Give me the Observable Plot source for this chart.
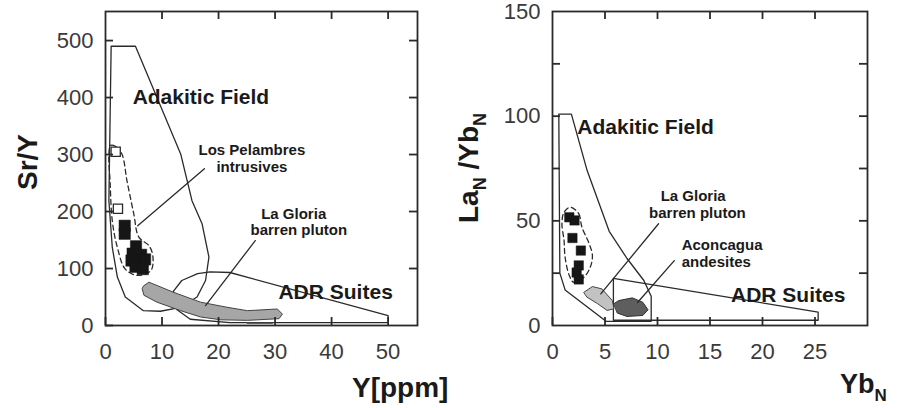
<!DOCTYPE html>
<html><head><meta charset="utf-8">
<script src="https://cdn.jsdelivr.net/npm/d3@7"></script>
<script src="https://cdn.jsdelivr.net/npm/@observablehq/plot@0.6"></script>
<style>
body{margin:0;background:#fff;font-family:"Liberation Sans",Arial,sans-serif;}
#wrap{position:relative;width:901px;height:408px;overflow:hidden;background:#fff}
.panel{position:absolute;top:0}
#titles{position:absolute;left:0;top:0;pointer-events:none}
</style></head><body><div id="wrap"></div>
<script>
// ---------- LEFT PANEL DATA (Sr/Y vs Y ppm) ----------
const leftXTicks = [0, 10, 20, 30, 40, 50];
const leftYTicks = [0, 100, 200, 300, 400, 500];
const leftAdakitic = [[1.0,490],[5.3,490],[13.3,301],[15.3,219],[17.1,178],[18.3,120],[17.7,79],[16.2,50],[13.3,32],[9.7,25],[6.7,26],[3.5,50],[2.1,85],[1.2,137],[0.6,219]];
const leftADR = [[12,60],[13.5,79],[16.3,91],[18.5,94],[22,93],[50,17.5],[50,5],[22,5],[15,11],[12.6,28]];
const leftGloria = [[6.8,70],[7.7,76],[12.1,58],[16.8,41],[21.5,32],[25.1,26],[30.4,29],[31.3,20],[30.7,12],[25.1,9],[20.4,10],[16.8,15],[13.3,26],[9.1,41],[6.8,53],[6.5,64]];
const leftGloriaDark = [[25,3],[29.5,3],[30,6],[25,6]];
const leftPelambres = [[0.9,316],[1.8,314],[2.9,301],[3.8,254],[5.0,196],[5.9,155],[7.7,140],[8.4,120],[8.0,96],[5.6,88],[3.5,99],[2.1,137],[1.2,184],[0.8,254],[0.6,300]];
const leftSolid = [[3.4,175],[3.4,161],[5.4,139],[4.8,126],[6.3,124],[4.6,114],[6.2,110],[5.3,103],[7.0,116],[6.6,99]];
const leftOpen = [[1.8,305],[2.2,205]];
const leftLeaderPelambres = [[17.5,275],[5.7,175]];
const leftLeaderGloria = [[26.5,149],[17.7,35]];
const leftFieldLabels = [{text:"Adakitic Field", x:4.8, y:400},{text:"ADR Suites", x:30.6, y:58}];
const leftNoteLabels = [{text:"Los Pelambres", x:25.9, y:307},{text:"intrusives", x:25.9, y:278},
                        {text:"La Gloria", x:33.3, y:196},{text:"barren pluton", x:34.2, y:167}];

// ---------- RIGHT PANEL DATA (LaN/YbN vs YbN) ----------
const rightXTicks = [0, 5, 10, 15, 20, 25];
const rightXMinor = [5, 10, 15, 20, 25];
const rightYLabels = [0, 50, 100, 150];
const rightYTicks = [25, 50, 75, 100, 125];
const rightAdakitic = [[0.6,101],[1.8,101],[3.3,74],[5.4,45],[7.1,32],[8.7,21.5],[9.4,14],[9.4,2],[5.1,2],[1.2,17],[0.7,25]];
const rightADR = [[5.8,22.5],[25.3,6.4],[25.3,2.5],[5.8,2.5]];
const rightGloria = [[3.0,15.9],[3.8,18.6],[4.7,17.5],[5.7,11.9],[5.85,8],[5.2,7.2],[4.3,10.4],[3.3,13.5]];
const rightAconcagua = [[5.85,10.4],[6.3,11.9],[7.6,13.2],[8.6,11.1],[9.1,7.5],[8.6,4.8],[7.1,4.3],[6.2,5.9]];
const rightPelambres = [[1.7,56.5],[2.5,53.4],[2.8,47],[3.5,39],[3.8,33.4],[3.6,27.9],[3.0,23.1],[2.0,20.7],[1.6,23.9],[1.2,32.6],[1.1,40.6],[0.9,48.6],[1.1,54.1]];
const rightSolid = [[1.6,51.7],[2.1,50.2],[1.9,41.8],[2.7,35.8],[2.5,28.7],[2.3,25.3],[2.5,22]];
const rightLeaderGloria = [[10.1,48.6],[4.6,15.1]];
const rightLeaderAconcagua = [[11.6,31],[8.1,11]];
const rightFieldLabels = [{text:"Adakitic Field", x:2.36, y:94.6},{text:"ADR Suites", x:17.0, y:14.3}];
const rightNoteCenter = [{text:"La Gloria", x:13.4, y:61.8},{text:"barren pluton", x:13.8, y:53.6}];
const rightNoteStart = [{text:"Aconcagua", x:12.3, y:38.6},{text:"andesites", x:12.3, y:30.4}];

const FONT = "Liberation Sans, Arial, Helvetica, sans-serif";
const INK = "#2a2a2a";
const TICK = 8; // tick length in pixels
const px = d => d[0], py = d => d[1];

// inward ticks as Plot rules; pixel length converted to data units per panel
function frameTicks(xDom, yDom, fw, fh, xBottom, xTop, yLeft, yRight) {
  const dx = TICK * (xDom[1] - xDom[0]) / fw, dy = TICK * (yDom[1] - yDom[0]) / fh;
  const o = {stroke: INK, strokeWidth: 1.8};
  return [
    Plot.ruleX(xBottom, {...o, x: d => d, y1: yDom[0], y2: yDom[0] + dy}),
    Plot.ruleX(xTop, {...o, x: d => d, y1: yDom[1] - dy, y2: yDom[1]}),
    Plot.ruleY(yLeft, {...o, y: d => d, x1: xDom[0], x2: xDom[0] + dx}),
    Plot.ruleY(yRight, {...o, y: d => d, x1: xDom[1] - dx, x2: xDom[1]})
  ];
}

const L = {w: 440, ml: 105, mr: 23, mt: 11, mb: 83, h: 408, xd: [0, 55.2], yd: [0, 551]};
const left = Plot.plot({
  width: L.w, height: L.h,
  marginLeft: L.ml, marginRight: L.mr, marginTop: L.mt, marginBottom: L.mb,
  x: {domain: L.xd, label: null},
  y: {domain: L.yd, label: null},
  style: {fontFamily: FONT, background: "transparent", overflow: "visible"},
  marks: [
    Plot.line(leftAdakitic, {x: px, y: py, curve: "linear-closed", stroke: INK, strokeWidth: 1.3}),
    Plot.line(leftADR, {x: px, y: py, curve: "linear-closed", stroke: INK, strokeWidth: 1.3}),
    Plot.line(leftGloria, {x: px, y: py, curve: "linear-closed", fill: "#a6a6a6", stroke: "#444", strokeWidth: 1}),
    Plot.line(leftGloriaDark, {x: px, y: py, curve: "linear-closed", fill: "#3c3c3c", stroke: "none"}),
    Plot.line(leftPelambres, {x: px, y: py, curve: "catmull-rom-closed", stroke: INK, strokeWidth: 1.3, strokeDasharray: "5,3.5"}),
    Plot.dot(leftSolid, {x: px, y: py, symbol: "square", r: 6.4, fill: "#161616", stroke: "#161616", strokeWidth: 0.5}),
    Plot.dot(leftOpen, {x: px, y: py, symbol: "square", r: 5.2, fill: "white", stroke: INK, strokeWidth: 1.3}),
    Plot.line(leftLeaderPelambres, {x: px, y: py, stroke: INK, strokeWidth: 1.3}),
    Plot.line(leftLeaderGloria, {x: px, y: py, stroke: INK, strokeWidth: 1.3}),
    Plot.text(leftFieldLabels, {x: "x", y: "y", text: "text", textAnchor: "start", fontSize: 21, fontWeight: "bold", fill: "#1a1a1a"}),
    Plot.text(leftNoteLabels, {x: "x", y: "y", text: "text", textAnchor: "middle", fontSize: 15, fontWeight: "bold", fill: "#1a1a1a"}),
    ...frameTicks(L.xd, L.yd, L.w - L.ml - L.mr, L.h - L.mt - L.mb, leftXTicks, leftXTicks.slice(1), leftYTicks, leftYTicks.slice(1)),
    Plot.frame({stroke: INK, strokeWidth: 1.8}),
    Plot.axisX({ticks: leftXTicks, tickSize: 0, tickPadding: 18, fontSize: 22, fill: "#3a3a3a", label: null}),
    Plot.axisY({ticks: leftYTicks, tickSize: 0, tickPadding: 12, fontSize: 22, fill: "#3a3a3a", label: null})
  ]
});

const R = {w: 461, ml: 112, mr: 34, mt: 11, mb: 83, h: 408, xd: [0, 30], yd: [0, 150]};
const right = Plot.plot({
  width: R.w, height: R.h,
  marginLeft: R.ml, marginRight: R.mr, marginTop: R.mt, marginBottom: R.mb,
  x: {domain: R.xd, label: null},
  y: {domain: R.yd, label: null},
  style: {fontFamily: FONT, background: "transparent", overflow: "visible"},
  marks: [
    Plot.line(rightAdakitic, {x: px, y: py, curve: "linear-closed", stroke: INK, strokeWidth: 1.3}),
    Plot.line(rightADR, {x: px, y: py, curve: "linear-closed", stroke: INK, strokeWidth: 1.3}),
    Plot.line(rightGloria, {x: px, y: py, curve: "linear-closed", fill: "#c2c2c2", stroke: "#444", strokeWidth: 1}),
    Plot.line(rightAconcagua, {x: px, y: py, curve: "linear-closed", fill: "#5e5e5e", stroke: "#333", strokeWidth: 1}),
    Plot.line(rightPelambres, {x: px, y: py, curve: "catmull-rom-closed", stroke: INK, strokeWidth: 1.3, strokeDasharray: "5,3.5"}),
    Plot.dot(rightSolid, {x: px, y: py, symbol: "square", r: 5.3, fill: "#161616", stroke: "#161616", strokeWidth: 0.5}),
    Plot.line(rightLeaderGloria, {x: px, y: py, stroke: INK, strokeWidth: 1.3}),
    Plot.line(rightLeaderAconcagua, {x: px, y: py, stroke: INK, strokeWidth: 1.3}),
    Plot.text(rightFieldLabels, {x: "x", y: "y", text: "text", textAnchor: "start", fontSize: 21, fontWeight: "bold", fill: "#1a1a1a"}),
    Plot.text(rightNoteCenter, {x: "x", y: "y", text: "text", textAnchor: "middle", fontSize: 15, fontWeight: "bold", fill: "#1a1a1a"}),
    Plot.text(rightNoteStart, {x: "x", y: "y", text: "text", textAnchor: "start", fontSize: 15, fontWeight: "bold", fill: "#1a1a1a"}),
    ...frameTicks(R.xd, R.yd, R.w - R.ml - R.mr, R.h - R.mt - R.mb, rightXTicks, rightXMinor, rightYTicks, rightYTicks),
    Plot.frame({stroke: INK, strokeWidth: 1.8}),
    Plot.axisX({ticks: rightXTicks, tickSize: 0, tickPadding: 18, fontSize: 22, fill: "#3a3a3a", label: null}),
    Plot.axisY({ticks: rightYLabels, tickSize: 0, tickPadding: 12, fontSize: 22, fill: "#3a3a3a", label: null})
  ]
});

const wrap = document.getElementById("wrap");
left.classList.add("panel"); left.style.left = "0px";
right.classList.add("panel"); right.style.left = "440px";
wrap.appendChild(left);
wrap.appendChild(right);

// ---------- axis titles ----------
const svg = d3.select(wrap).append("svg").attr("id", "titles").attr("width", 901).attr("height", 408)
  .style("font-family", FONT).style("font-weight", "bold").style("fill", "#1a1a1a");
svg.append("text").attr("transform", "translate(37,162) rotate(-90)").attr("text-anchor", "middle")
  .attr("font-size", 28).text("Sr/Y");
svg.append("text").attr("x", 352).attr("y", 397).attr("font-size", 28).text("Y[ppm]");
const yb = svg.append("text").attr("x", 840).attr("y", 393).attr("font-size", 27);
yb.append("tspan").text("Yb");
yb.append("tspan").attr("font-size", 17).attr("dy", 8).text("N");
const la = svg.append("text").attr("transform", "translate(478,168) rotate(-90)").attr("text-anchor", "middle").attr("font-size", 28);
la.append("tspan").text("La");
la.append("tspan").attr("font-size", 18).attr("dy", 8).text("N");
la.append("tspan").attr("dy", -8).text(" /Yb");
la.append("tspan").attr("font-size", 18).attr("dy", 8).text("N");
</script></body></html>
